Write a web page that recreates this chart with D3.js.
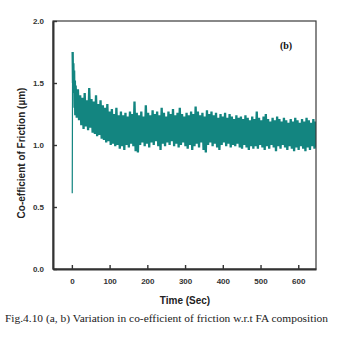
<!DOCTYPE html>
<html>
<head>
<meta charset="utf-8">
<script src="https://cdn.jsdelivr.net/npm/d3@7"></script>
<style>
  html, body { margin: 0; padding: 0; background: #fff; }
  svg { display: block; }
</style>
</head>
<body>
<svg id="chart" width="353" height="337"></svg>
<script>
// Sliding time (s) of each friction reading
const timeSec = [
  1,2,3,4,5,6,7,8,9,
  10,13,16,19,22,25,28,31,34,37,40,43,46,49,52,55,58,61,64,67,
  70,73,76,79,82,85,88,91,94,97,100,103,106,109,112,115,118,121,124,127,
  130,133,136,139,142,145,148,151,154,157,160,163,166,169,172,175,178,181,184,187,
  190,193,196,199,202,205,208,211,214,217,220,223,226,229,232,235,238,241,244,247,
  250,253,256,259,262,265,268,271,274,277,280,283,286,289,292,295,298,301,304,307,
  310,313,316,319,322,325,328,331,334,337,340,343,346,349,352,355,358,361,364,367,
  370,373,376,379,382,385,388,391,394,397,400,403,406,409,412,415,418,421,424,427,
  430,433,436,439,442,445,448,451,454,457,460,463,466,469,472,475,478,481,484,487,
  490,493,496,499,502,505,508,511,514,517,520,523,526,529,532,535,538,541,544,547,
  550,553,556,559,562,565,568,571,574,577,580,583,586,589,592,595,598,601,604,607,
  610,613,616,619,622,625,628,631,634,637,640,643,646,649
];

// Co-efficient of friction recorded at each time
const friction = [
  0.61,1.75,1.50,1.66,1.42,1.60,1.30,1.52,1.24,
  1.48,1.22, 1.45,1.20, 1.40,1.16, 1.38,1.13, 1.42,1.15, 1.36,1.12, 1.46,1.14, 1.37,1.10, 1.35,1.09, 1.40,1.07,
  1.33,1.08, 1.36,1.05, 1.32,1.04, 1.30,1.02, 1.33,1.03, 1.27,1.00, 1.29,1.01, 1.25,0.99, 1.30,1.00, 1.24,0.97,
  1.27,0.99, 1.24,0.96, 1.26,1.00, 1.23,0.98, 1.27,1.01, 1.25,0.99, 1.35,0.95, 1.26,0.94, 1.24,1.00, 1.27,1.02,
  1.23,0.99, 1.32,1.01, 1.26,0.98, 1.24,1.02, 1.28,1.00, 1.25,1.03, 1.27,0.99, 1.24,0.96, 1.30,1.01, 1.26,0.99,
  1.23,1.02, 1.27,1.00, 1.25,1.03, 1.29,0.99, 1.24,1.01, 1.26,0.98, 1.30,1.00, 1.25,1.02, 1.23,0.99, 1.26,0.97,
  1.24,1.00, 1.27,0.96, 1.25,0.99, 1.31,1.01, 1.27,0.98, 1.24,1.02, 1.26,0.96, 1.23,0.94, 1.28,1.00, 1.25,1.02,
  1.27,0.99, 1.24,1.01, 1.26,0.98, 1.22,0.96, 1.25,1.00, 1.23,1.02, 1.26,0.99, 1.22,1.01, 1.25,0.98, 1.23,1.00,
  1.21,0.99, 1.24,1.01, 1.22,0.98, 1.23,0.97, 1.21,1.00, 1.24,0.98, 1.22,0.96, 1.20,0.99, 1.23,0.97, 1.21,0.99,
  1.27,0.97, 1.22,1.00, 1.20,0.98, 1.23,0.96, 1.25,0.99, 1.21,0.97, 1.19,1.00, 1.22,0.98, 1.20,0.95, 1.23,0.99,
  1.21,0.97, 1.19,1.00, 1.22,0.98, 1.20,0.96, 1.18,0.99, 1.21,0.97, 1.19,0.95, 1.22,0.98, 1.20,0.96, 1.18,0.99,
  1.21,0.97, 1.19,0.95, 1.22,0.98, 1.20,0.96, 1.18,0.99, 1.21,0.97, 1.19,0.98
];

const xTicks = [0, 100, 200, 300, 400, 500, 600];
const yTicks = [0.0, 0.5, 1.0, 1.5, 2.0];

const xTitle = "Time (Sec)";
const yTitle = "Co-efficient of Friction (\u00b5m)";
const panelLabel = "(b)";
const caption = "Fig.4.10 (a, b) Variation in co-efficient of friction w.r.t FA composition";

const svg = d3.select("#chart");
const plot = { left: 53, right: 316, top: 21, bottom: 269 };

const x = d3.scaleLinear().domain([-50, 647]).range([plot.left, plot.right]);
const y = d3.scaleLinear().domain([0, 2]).range([plot.bottom, plot.top]);

const n = Math.min(timeSec.length, friction.length);
const points = d3.range(n).map(i => ({ t: timeSec[i], v: friction[i] }));

svg.append("clipPath").attr("id", "plotClip")
  .append("rect")
  .attr("x", plot.left).attr("y", plot.top)
  .attr("width", plot.right - plot.left).attr("height", plot.bottom - plot.top);

const line = d3.line().x(d => x(d.t)).y(d => y(d.v));

// friction trace: thin start-up spike, then the dense oscillating record
svg.append("path")
  .datum(points.slice(0, 3))
  .attr("clip-path", "url(#plotClip)")
  .attr("fill", "none")
  .attr("stroke", "#138580")
  .attr("stroke-width", 1.2)
  .attr("d", line);

svg.append("path")
  .datum(points.slice(1))
  .attr("clip-path", "url(#plotClip)")
  .attr("fill", "none")
  .attr("stroke", "#138580")
  .attr("stroke-width", 2.3)
  .attr("stroke-linejoin", "bevel")
  .attr("d", line);

// frame
svg.append("rect")
  .attr("x", plot.left).attr("y", plot.top)
  .attr("width", plot.right - plot.left).attr("height", plot.bottom - plot.top)
  .attr("fill", "none").attr("stroke", "#3a3a3a").attr("stroke-width", 1.2);

const tickFont = "'Liberation Sans', Arial, sans-serif";

// bottom axis, ticks pointing inward
const xAxis = svg.append("g")
  .attr("transform", `translate(0,${plot.bottom})`)
  .call(d3.axisBottom(x).tickValues(xTicks).tickSizeInner(-4).tickSizeOuter(0).tickPadding(9).tickFormat(d3.format("d")));
xAxis.select(".domain").attr("stroke", "#333").attr("stroke-width", 2);
xAxis.selectAll(".tick line").attr("stroke", "#333").attr("stroke-width", 1.4);
xAxis.selectAll(".tick text")
  .attr("fill", "#333").style("font-family", tickFont).style("font-size", "8px").style("font-weight", "bold");

// left axis, ticks pointing inward
const yAxis = svg.append("g")
  .attr("transform", `translate(${plot.left},0)`)
  .call(d3.axisLeft(y).tickValues(yTicks).tickSizeInner(-4).tickSizeOuter(0).tickPadding(9).tickFormat(d3.format(".1f")));
yAxis.select(".domain").attr("stroke", "#333").attr("stroke-width", 2);
yAxis.selectAll(".tick line").attr("stroke", "#333").attr("stroke-width", 1.4);
yAxis.selectAll(".tick text")
  .attr("fill", "#333").style("font-family", tickFont).style("font-size", "8px").style("font-weight", "bold");

// axis titles
svg.append("text")
  .attr("x", 185).attr("y", 304)
  .attr("text-anchor", "middle")
  .style("font-family", tickFont).style("font-size", "10px").style("font-weight", "bold")
  .attr("fill", "#222")
  .text(xTitle);

svg.append("text")
  .attr("transform", "translate(25,153) rotate(-90)")
  .attr("text-anchor", "middle")
  .style("font-family", tickFont).style("font-size", "10px").style("font-weight", "bold")
  .attr("fill", "#222")
  .text(yTitle);

// panel label
svg.append("text")
  .attr("x", 286).attr("y", 49)
  .attr("text-anchor", "middle")
  .style("font-family", "'Liberation Serif', 'Times New Roman', serif").style("font-size", "10px").style("font-weight", "bold")
  .attr("fill", "#111")
  .text(panelLabel);

// figure caption
svg.append("text")
  .attr("x", 5).attr("y", 322)
  .attr("textLength", 323).attr("lengthAdjust", "spacingAndGlyphs")
  .style("font-family", "'Liberation Serif', 'Times New Roman', serif").style("font-size", "11px")
  .attr("fill", "#222")
  .text(caption);
</script>
</body>
</html>
